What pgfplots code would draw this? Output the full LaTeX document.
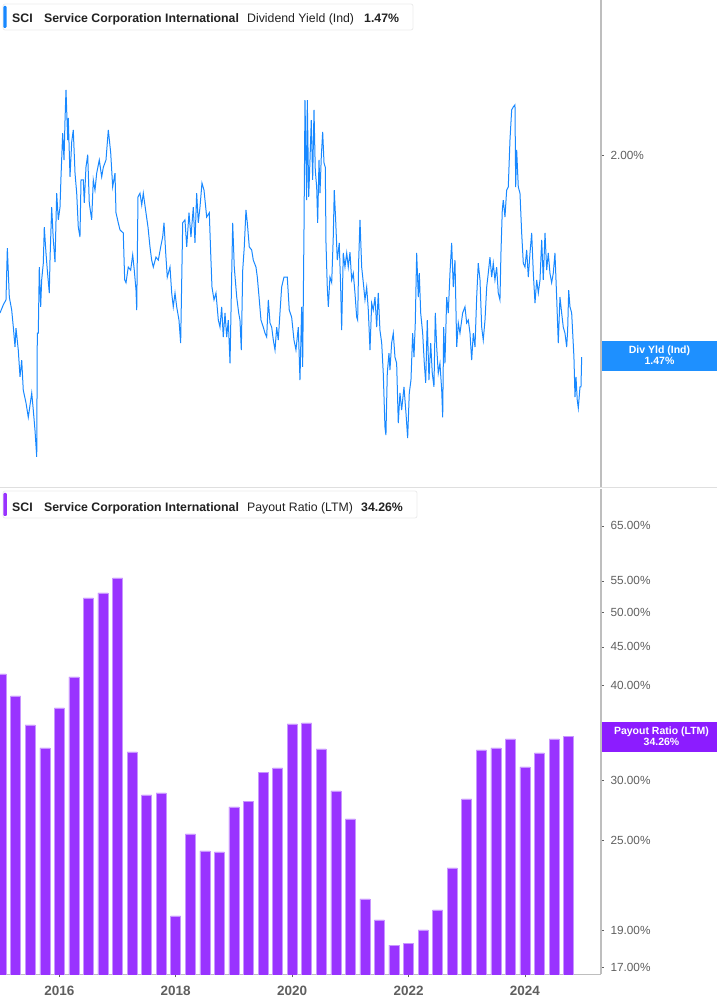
\documentclass[border=0pt]{standalone}
\usepackage{pgfplots}
\pgfplotsset{compat=1.18}
\usepackage{fontspec}
\setmainfont{Liberation Sans}

\definecolor{yldblue}{RGB}{24,136,255}
\definecolor{boxblue}{RGB}{30,144,255}
\definecolor{barpurple}{RGB}{153,51,255}
\definecolor{baredge}{RGB}{200,150,255}
\definecolor{boxpurple}{RGB}{140,28,255}
\definecolor{axisgray}{RGB}{190,190,190}
\definecolor{labelgray}{RGB}{95,95,95}
\definecolor{titletext}{RGB}{34,34,34}

\pgfplotsset{
  panel/.style={
    scale only axis, width=601pt,
    xmin=2014.981, xmax=2025.307,
    axis line style={draw=axisgray, line width=1.6pt},
    tick style={draw=labelgray, line width=0.6pt},
    major tick length=3pt, tick align=outside,
    yminorticks=false, xminorticks=false,
    yticklabel style={font=\fontsize{11.8}{13}\selectfont, text=labelgray, anchor=west, xshift=3pt},
  }
}

% payout ratio (LTM), quarterly, percent
\pgfplotstableread{
yr     pr
2015.00 41.46
2015.25 38.78
2015.50 35.51
2015.75 33.10
2016.00 37.39
2016.25 41.08
2016.50 52.24
2016.75 53.04
2017.00 55.50
2017.25 32.70
2017.50 28.70
2017.75 28.88
2018.00 19.87
2018.25 25.49
2018.50 24.21
2018.75 24.13
2019.00 27.67
2019.25 28.17
2019.50 30.77
2019.75 31.15
2020.00 35.62
2020.25 35.72
2020.50 33.00
2020.75 29.05
2021.00 26.68
2021.25 20.92
2021.50 19.63
2021.75 18.19
2022.00 18.30
2022.25 19.04
2022.50 20.23
2022.75 22.99
2023.00 28.35
2023.25 32.90
2023.50 33.10
2023.75 34.02
2024.00 31.25
2024.25 32.60
2024.50 34.02
2024.75 34.26
}\payout

% dividend yield (ind), percent
\pgfplotstableread{
yr dy
2014.981 1.570
2015.038 1.590
2015.084 1.602
2015.107 1.735
2015.141 1.609
2015.182 1.577
2015.210 1.536
2015.239 1.490
2015.256 1.534
2015.295 1.483
2015.325 1.423
2015.354 1.460
2015.381 1.394
2015.428 1.367
2015.467 1.337
2015.526 1.388
2015.553 1.352
2015.582 1.311
2015.612 1.258
2015.622 1.522
2015.639 1.522
2015.656 1.685
2015.680 1.585
2015.697 1.652
2015.725 1.695
2015.742 1.792
2015.771 1.722
2015.794 1.677
2015.828 1.619
2015.840 1.703
2015.869 1.848
2015.897 1.757
2015.926 1.698
2015.955 1.888
2015.983 1.812
2016.012 1.848
2016.029 1.936
2016.058 2.071
2016.081 1.987
2016.098 2.113
2016.115 2.213
2016.144 2.049
2016.154 2.120
2016.184 1.936
2016.213 2.043
2016.240 2.081
2016.270 1.947
2016.299 1.888
2016.326 1.792
2016.355 1.765
2016.373 1.927
2016.412 1.927
2016.429 1.860
2016.458 1.965
2016.488 2.003
2016.515 1.860
2016.556 1.812
2016.584 1.927
2016.613 1.897
2016.642 1.947
2016.687 1.987
2016.728 1.936
2016.756 1.965
2016.802 1.987
2016.842 2.081
2016.883 2.009
2016.917 1.906
2016.957 1.947
2016.974 1.832
2017.013 1.804
2017.043 1.784
2017.099 1.776
2017.123 1.652
2017.146 1.645
2017.185 1.685
2017.226 1.677
2017.261 1.717
2017.288 1.677
2017.318 1.626
2017.330 1.577
2017.352 1.877
2017.386 1.888
2017.416 1.854
2017.443 1.888
2017.489 1.832
2017.524 1.792
2017.558 1.738
2017.587 1.703
2017.615 1.685
2017.661 1.711
2017.701 1.703
2017.742 1.738
2017.776 1.765
2017.799 1.804
2017.828 1.722
2017.855 1.659
2017.902 1.685
2017.931 1.619
2017.958 1.585
2017.988 1.619
2018.017 1.585
2018.056 1.553
2018.085 1.499
2018.120 1.804
2018.159 1.812
2018.189 1.738
2018.228 1.832
2018.262 1.765
2018.302 1.848
2018.331 1.749
2018.360 1.888
2018.388 1.804
2018.417 1.848
2018.451 1.918
2018.486 1.897
2018.532 1.820
2018.577 1.832
2018.601 1.722
2018.623 1.634
2018.658 1.602
2018.692 1.619
2018.732 1.553
2018.761 1.536
2018.790 1.585
2018.817 1.513
2018.847 1.570
2018.876 1.513
2018.903 1.553
2018.933 1.453
2018.979 1.804
2019.006 1.685
2019.048 1.609
2019.082 1.570
2019.104 1.553
2019.127 1.483
2019.151 1.677
2019.178 1.738
2019.207 1.840
2019.230 1.804
2019.264 1.738
2019.305 1.730
2019.333 1.703
2019.379 1.685
2019.402 1.659
2019.436 1.602
2019.465 1.553
2019.505 1.536
2019.534 1.522
2019.563 1.513
2019.591 1.602
2019.620 1.546
2019.649 1.536
2019.677 1.506
2019.706 1.483
2019.735 1.536
2019.762 1.506
2019.791 1.570
2019.820 1.634
2019.860 1.659
2019.917 1.659
2019.951 1.577
2019.992 1.560
2020.032 1.506
2020.066 1.483
2020.106 1.536
2020.135 1.416
2020.164 1.585
2020.181 1.445
2020.204 1.784
2020.221 2.179
2020.250 1.868
2020.261 2.179
2020.285 1.877
2020.307 1.987
2020.329 2.113
2020.353 1.927
2020.376 2.146
2020.398 1.956
2020.422 1.906
2020.439 1.804
2020.462 1.987
2020.479 1.888
2020.501 1.996
2020.525 2.075
2020.548 1.978
2020.570 1.965
2020.582 1.749
2020.604 1.634
2020.622 1.585
2020.650 1.659
2020.680 1.645
2020.707 1.765
2020.724 1.897
2020.748 1.812
2020.776 1.703
2020.810 1.749
2020.834 1.634
2020.851 1.529
2020.879 1.722
2020.908 1.685
2020.938 1.722
2020.965 1.685
2020.994 1.724
2021.023 1.652
2021.051 1.669
2021.080 1.619
2021.109 1.560
2021.126 1.553
2021.144 1.703
2021.166 1.812
2021.195 1.685
2021.223 1.645
2021.252 1.602
2021.281 1.634
2021.309 1.577
2021.338 1.483
2021.367 1.594
2021.394 1.577
2021.424 1.609
2021.453 1.536
2021.480 1.619
2021.509 1.529
2021.539 1.499
2021.566 1.431
2021.595 1.317
2021.612 1.301
2021.635 1.431
2021.664 1.476
2021.681 1.438
2021.710 1.499
2021.738 1.522
2021.767 1.467
2021.796 1.453
2021.824 1.325
2021.853 1.388
2021.882 1.352
2021.922 1.401
2021.956 1.346
2021.985 1.295
2022.013 1.388
2022.042 1.416
2022.071 1.522
2022.094 1.467
2022.116 1.546
2022.140 1.722
2022.168 1.609
2022.185 1.669
2022.209 1.570
2022.243 1.522
2022.271 1.453
2022.295 1.410
2022.322 1.553
2022.351 1.416
2022.381 1.499
2022.408 1.431
2022.437 1.401
2022.460 1.570
2022.484 1.490
2022.511 1.431
2022.540 1.453
2022.570 1.394
2022.587 1.337
2022.604 1.536
2022.626 1.453
2022.656 1.609
2022.683 1.570
2022.712 1.669
2022.741 1.749
2022.769 1.634
2022.798 1.703
2022.828 1.490
2022.855 1.546
2022.884 1.522
2022.930 1.570
2022.970 1.585
2022.999 1.546
2023.027 1.553
2023.056 1.522
2023.085 1.460
2023.113 1.522
2023.142 1.490
2023.171 1.609
2023.198 1.695
2023.228 1.652
2023.257 1.536
2023.284 1.506
2023.314 1.553
2023.343 1.634
2023.370 1.669
2023.399 1.711
2023.429 1.659
2023.456 1.695
2023.485 1.652
2023.514 1.685
2023.542 1.619
2023.571 1.602
2023.588 1.722
2023.611 1.840
2023.628 1.868
2023.657 1.820
2023.686 1.897
2023.714 1.906
2023.743 2.049
2023.772 2.146
2023.800 2.156
2023.829 2.163
2023.841 1.906
2023.858 2.018
2023.886 1.906
2023.915 1.888
2023.944 1.776
2023.972 1.695
2024.001 1.685
2024.030 1.730
2024.058 1.659
2024.087 1.722
2024.116 1.776
2024.144 1.669
2024.173 1.594
2024.202 1.652
2024.230 1.619
2024.259 1.652
2024.288 1.757
2024.315 1.652
2024.345 1.776
2024.374 1.677
2024.401 1.722
2024.430 1.669
2024.459 1.645
2024.487 1.669
2024.516 1.722
2024.545 1.609
2024.573 1.499
2024.602 1.609
2024.631 1.570
2024.659 1.536
2024.688 1.522
2024.717 1.490
2024.734 1.529
2024.752 1.626
2024.774 1.585
2024.803 1.570
2024.842 1.467
2024.860 1.379
2024.877 1.423
2024.899 1.373
2024.917 1.356
2024.946 1.401
2024.963 1.401
2024.975 1.467
}\yield

\begin{document}
\begin{tikzpicture}[x=1pt,y=1pt]
\useasboundingbox (0,0) rectangle (717,1005);

% top panel: dividend yield
\begin{axis}[panel,
  at={(0pt,517.5pt)}, anchor=south west, height=487.5pt,
  ymode=log, ymin=1.2001, ymax=2.5417,
  axis x line=none, axis y line*=right,
  ytick={2}, yticklabels={2.00\%},
]
\addplot[yldblue, line width=1pt, mark=none] table[x=yr, y=dy] {\yield};
\end{axis}

% bottom panel: payout ratio
% (the 35% label sits under the last-value tag, so it is left blank)
\begin{axis}[panel,
  at={(0pt,30.5pt)}, anchor=south west, height=485.5pt,
  ymode=log, ymin=16.63, ymax=72.73,
  axis x line*=bottom, axis y line*=right,
  ytick={17,19,25,30,35,40,45,50,55,65},
  yticklabels={17.00\%,19.00\%,25.00\%,30.00\%,,40.00\%,45.00\%,50.00\%,55.00\%,65.00\%},
  xtick={2016,2018,2020,2022,2024},
  xticklabels={2016,2018,2020,2022,2024},
  xticklabel style={font=\bfseries\fontsize{13.5}{15}\selectfont, text=labelgray, yshift=-5pt},
]
\addplot[ybar, bar width=0.172, fill=barpurple, draw=baredge, line width=0.5pt]
  table[x=yr, y=pr] {\payout};
\end{axis}

% panel separator
\draw[gray!25, line width=1pt] (0,517.5) -- (717,517.5);

% title boxes
\draw[gray!15, fill=white, rounded corners=2pt, line width=0.8pt] (3,975) rectangle (413,1001);
\fill[yldblue, rounded corners=1pt] (3.3,977) rectangle (6.5,999);
\node[anchor=base west, inner sep=0, text=titletext, font=\bfseries\fontsize{12.3}{14}\selectfont] at (12,982) {SCI};
\node[anchor=base west, inner sep=0, text=titletext, font=\bfseries\fontsize{12.3}{14}\selectfont] at (44,982) {Service Corporation International};
\node[anchor=base west, inner sep=0, text=titletext, font=\fontsize{12.3}{14}\selectfont] at (247,982) {Dividend Yield (Ind)};
\node[anchor=base west, inner sep=0, text=titletext, font=\bfseries\fontsize{12.3}{14}\selectfont] at (364,982) {1.47\%};

\draw[gray!15, fill=white, rounded corners=2pt, line width=0.8pt] (3,487) rectangle (417,514);
\fill[barpurple, rounded corners=1pt] (3.3,489) rectangle (6.8,512);
\node[anchor=base west, inner sep=0, text=titletext, font=\bfseries\fontsize{12.3}{14}\selectfont] at (12,493.7) {SCI};
\node[anchor=base west, inner sep=0, text=titletext, font=\bfseries\fontsize{12.3}{14}\selectfont] at (44,493.7) {Service Corporation International};
\node[anchor=base west, inner sep=0, text=titletext, font=\fontsize{12.3}{14}\selectfont] at (247,493.7) {Payout Ratio (LTM)};
\node[anchor=base west, inner sep=0, text=titletext, font=\bfseries\fontsize{12.3}{14}\selectfont] at (361,493.7) {34.26\%};

% last-value tags on the right axis
\fill[boxblue] (601.5,634.3) rectangle (717,664.3);
\node[align=center, text=white, inner sep=0, font=\bfseries\fontsize{10.5}{11}\selectfont] at (659.5,649.3) {Div Yld (Ind)\\1.47\%};
\fill[boxpurple] (601.5,253.3) rectangle (717,283.3);
\node[align=center, text=white, inner sep=0, font=\bfseries\fontsize{10.5}{11}\selectfont] at (661.5,268.3) {Payout Ratio (LTM)\\34.26\%};
\end{tikzpicture}
\end{document}
